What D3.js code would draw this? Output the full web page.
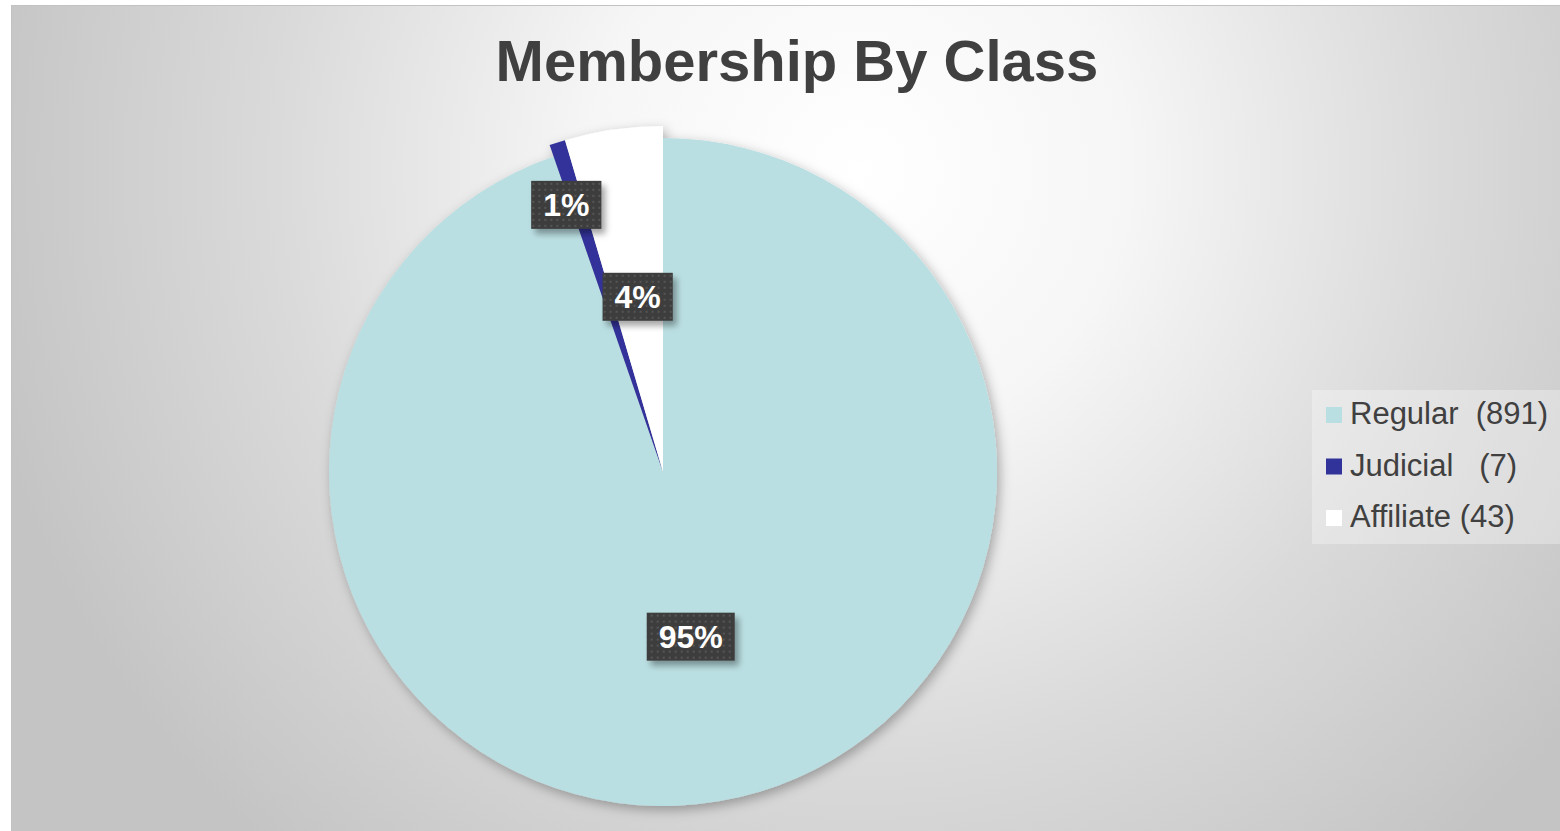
<!DOCTYPE html>
<html>
<head>
<meta charset="utf-8">
<script src="https://cdn.jsdelivr.net/npm/d3@7"></script>
<style>
  html, body { margin: 0; padding: 0; background: #ffffff; }
  svg { display: block; }
  text { font-family: "Liberation Sans", Arial, sans-serif; }
</style>
</head>
<body>
<svg id="chart" width="1560" height="831"></svg>
<script>
// chart values
var categories = ["Regular", "Judicial", "Affiliate"];
var legendNames = ["Regular  (891)", "Judicial   (7)", "Affiliate (43)"];
var counts = [891, 7, 43];
var pctLabels = ["95%", "1%", "4%"];
var sliceColors = ["#badfe2", "#31339a", "#ffffff"];

document.addEventListener("DOMContentLoaded", function () {

  var W = 1560, H = 831;
  var svg = d3.select("#chart");
  var defs = svg.append("defs");

  // background gradient
  var grad = defs.append("radialGradient")
    .attr("id", "bg")
    .attr("gradientUnits", "userSpaceOnUse")
    .attr("cx", 860).attr("cy", 170).attr("r", 900);
  grad.append("stop").attr("offset", "0").attr("stop-color", "#ffffff");
  grad.append("stop").attr("offset", "0.3").attr("stop-color", "#f6f6f6");
  grad.append("stop").attr("offset", "0.65").attr("stop-color", "#dadada");
  grad.append("stop").attr("offset", "1").attr("stop-color", "#c4c4c4");

  var shadow = defs.append("filter").attr("id", "pieShadow")
    .attr("x", "-20%").attr("y", "-20%").attr("width", "140%").attr("height", "140%");
  shadow.append("feDropShadow")
    .attr("dx", 3).attr("dy", 4).attr("stdDeviation", 6)
    .attr("flood-color", "#000").attr("flood-opacity", 0.3);

  var boxShadow = defs.append("filter").attr("id", "boxShadow")
    .attr("x", "-30%").attr("y", "-30%").attr("width", "170%").attr("height", "170%");
  boxShadow.append("feDropShadow")
    .attr("dx", 4).attr("dy", 5).attr("stdDeviation", 3)
    .attr("flood-color", "#000").attr("flood-opacity", 0.35);

  var dots = defs.append("pattern").attr("id", "dots")
    .attr("patternUnits", "userSpaceOnUse")
    .attr("width", 6).attr("height", 6);
  dots.append("rect").attr("width", 6).attr("height", 6).attr("fill", "#3e3e3e");
  dots.append("rect").attr("x", 2).attr("y", 2).attr("width", 2).attr("height", 2).attr("fill", "#555555");

  svg.append("rect")
    .attr("x", 11.5).attr("y", 5.5)
    .attr("width", W - 11).attr("height", H - 5)
    .attr("fill", "url(#bg)")
    .attr("stroke", "#c2c2c2");

  // title
  svg.append("text")
    .attr("x", 797).attr("y", 81)
    .attr("text-anchor", "middle")
    .attr("font-size", 58)
    .attr("font-weight", "bold")
    .attr("fill", "#404040")
    .text("Membership By Class");

  // pie
  var cx = 663, cy = 472, radius = 334;
  var data = categories.map(function (c, i) {
    return { name: c, value: counts[i], color: sliceColors[i], label: pctLabels[i] };
  });

  var pie = d3.pie().sort(null).value(function (d) { return d.value; });
  var arcs = pie(data);

  // small slices are pulled out a little
  var outer = [radius, radius + 12, radius + 12];
  var labelR = [0.5, 0.84, 0.53];
  var labelDx = [0, -11, 0];

  var pieG = svg.append("g")
    .attr("transform", "translate(" + cx + "," + cy + ")")
    .attr("filter", "url(#pieShadow)");

  pieG.selectAll("path")
    .data(arcs)
    .enter()
    .append("path")
    .attr("fill", function (d) { return d.data.color; })
    .attr("d", function (d, i) {
      return d3.arc().innerRadius(0).outerRadius(outer[i])(d);
    });

  // data labels
  var labG = svg.append("g")
    .attr("transform", "translate(" + cx + "," + cy + ")");

  arcs.forEach(function (d, i) {
    var mid = (d.startAngle + d.endAngle) / 2;
    var r = radius * labelR[i];
    var x = r * Math.sin(mid) + labelDx[i], y = -r * Math.cos(mid);
    var g = labG.append("g").attr("transform", "translate(" + x + "," + y + ")");
    var t = g.append("text")
      .attr("text-anchor", "middle")
      .attr("y", 11)
      .attr("font-size", 32)
      .attr("font-weight", "bold")
      .attr("fill", "#ffffff")
      .text(d.data.label);
    var w = t.node().getComputedTextLength() + 24;
    g.insert("rect", "text")
      .attr("x", -w / 2).attr("y", -24)
      .attr("width", w).attr("height", 48)
      .attr("fill", "url(#dots)")
      .attr("filter", "url(#boxShadow)");
  });

  // legend
  var leg = svg.append("g");
  leg.append("rect")
    .attr("x", 1312).attr("y", 390)
    .attr("width", 248).attr("height", 154)
    .attr("fill", "#ffffff").attr("fill-opacity", 0.3);

  var rows = leg.selectAll("g.row")
    .data(data)
    .enter()
    .append("g")
    .attr("class", "row")
    .attr("transform", function (d, i) { return "translate(1326," + (407 + i * 51.5) + ")"; });

  rows.append("rect")
    .attr("width", 16).attr("height", 16)
    .attr("fill", function (d) { return d.color; });

  rows.append("text")
    .attr("x", 24).attr("y", 17)
    .attr("font-size", 31)
    .attr("fill", "#404040")
    .attr("xml:space", "preserve")
    .style("white-space", "pre")
    .text(function (d, i) { return legendNames[i]; });

});
</script>
</body>
</html>
